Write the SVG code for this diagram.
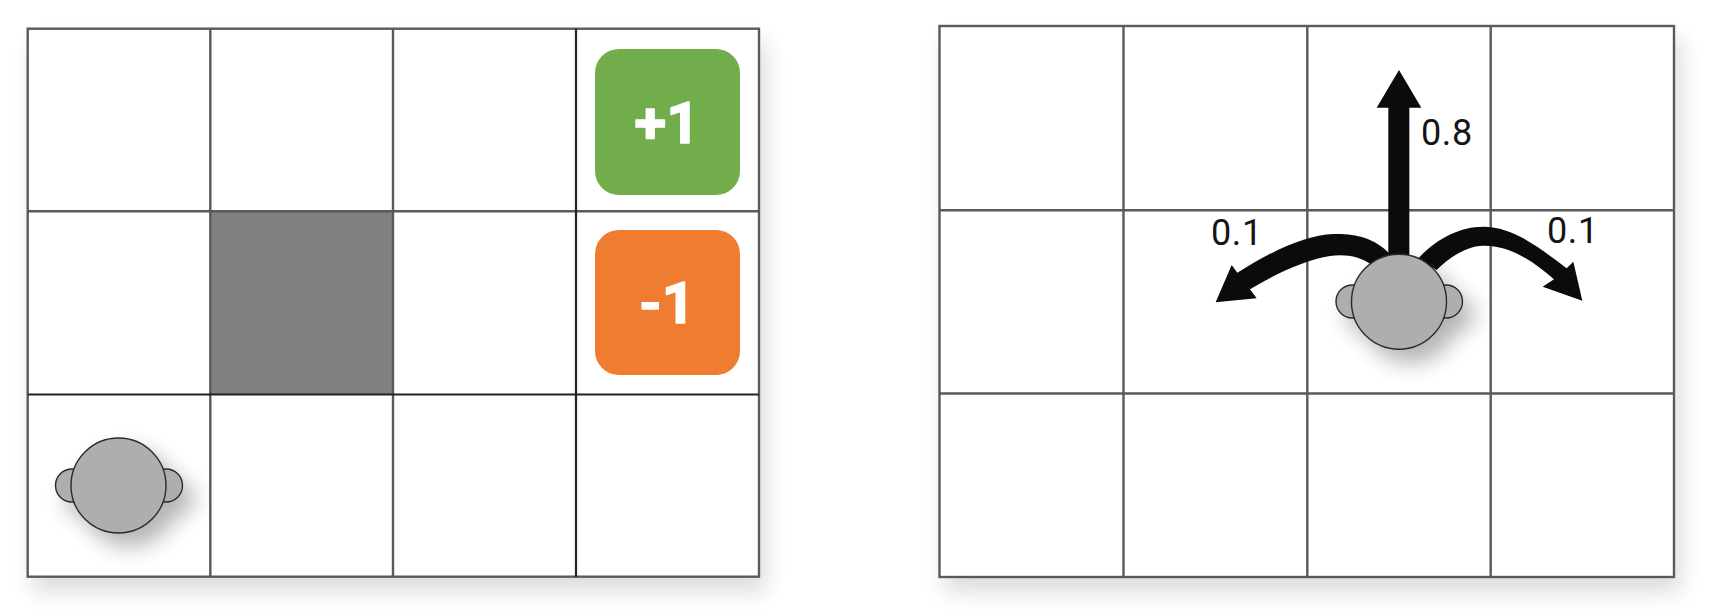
<svg xmlns="http://www.w3.org/2000/svg" width="1713" height="616" viewBox="0 0 1713 616">
<style>
.grid{fill:none;stroke:#5a5a5a;stroke-width:2.4}
.dark{fill:none;stroke:#222;stroke-width:2.2}
.back{fill:#fff;stroke:#5a5a5a;stroke-width:2.4;filter:url(#gs)}
.head,.ear{fill:#adafad;stroke:#2a2a2a;stroke-width:1.4}
.tip{fill:#0b0b0b}
.lab{font-family:Roboto,"Liberation Sans",sans-serif;font-size:36px;letter-spacing:.6px;fill:#151515}
.score{font-family:Roboto,"Liberation Sans",sans-serif;font-weight:700;font-size:58px;fill:#fff;text-anchor:middle;stroke:#fff;stroke-width:1.5;stroke-linejoin:round}
</style>
<defs>
<filter id="gs" x="-10%" y="-10%" width="120%" height="125%"><feGaussianBlur in="SourceAlpha" stdDeviation="11"/><feOffset dx="6" dy="14"/><feComponentTransfer><feFuncA type="linear" slope="0.14"/></feComponentTransfer><feMerge><feMergeNode/><feMergeNode in="SourceGraphic"/></feMerge></filter>
<filter id="as" x="-50%" y="-50%" width="210%" height="210%"><feGaussianBlur in="SourceAlpha" stdDeviation="11"/><feOffset dx="11" dy="13"/><feComponentTransfer><feFuncA type="linear" slope="0.3"/></feComponentTransfer><feMerge><feMergeNode/><feMergeNode in="SourceGraphic"/></feMerge></filter>
</defs>
<g id="grid-left">
<rect class="back" x="27.7" y="28.7" width="731.3" height="548"/>
<rect x="210" y="211" width="183" height="183.500" fill="#7f817f"/>
<path class="grid" d="M210.300 28.700V576.700M393 28.700V576.700M27.700 211.300H759"/>
<path class="dark" d="M576 28.700V576.700M27.700 394.500H759"/>
</g>
<g id="goal-plus"><rect x="595" y="49" width="145" height="146" rx="24" fill="#72ad4b"/><text class="score" x="667" y="143">+1</text></g>
<g id="goal-minus"><rect x="595" y="230" width="145" height="145" rx="24" fill="#ee7d31"/><text class="score" x="667" y="323">-1</text></g>
<g id="agent-left" filter="url(#as)">
<circle class="ear" cx="72" cy="485.500" r="16.500"/><circle class="ear" cx="166" cy="485.500" r="16.500"/><circle class="head" cx="118.500" cy="485.500" r="47.500"/>
</g>
<g id="grid-right">
<rect class="back" x="939.500" y="26" width="734.500" height="551"/>
<path class="grid" d="M1123.500 26V577M1307.300 26V577M1490.700 26V577M939.500 210.300H1674M939.500 393.500H1674"/>
</g>
<g id="connectors" transform="translate(1150 50) scale(.33333)">
<path class="tip" d="M715 640V173H680L747 60L814 173H778V640Z"/>
<path class="tip" d="M720 612C670 560 610 550 550 552C470 556 380 594 262 668L245 645L197 757L320 745L300 718C380 670 470 628 540 618C590 612 630 620 665 645Z"/>
<path class="tip" d="M805 625C860 565 930 530 1000 530C1090 530 1170 595 1250 655L1270 635L1297 752L1178 710L1212 688C1150 635 1080 585 1000 587C950 588 900 620 860 660Z"/>
</g>
<g id="agent-right" filter="url(#as)">
<circle class="ear" cx="1352.500" cy="301.500" r="16.500"/><circle class="ear" cx="1446" cy="301.500" r="16.500"/><circle class="head" cx="1399" cy="301.700" r="47.500"/>
</g>
<g id="labels">
<text class="lab" x="1421" y="145">0.8</text>
<text class="lab" x="1211" y="245">0.1</text>
<text class="lab" x="1547" y="243">0.1</text>
</g>
</svg>
